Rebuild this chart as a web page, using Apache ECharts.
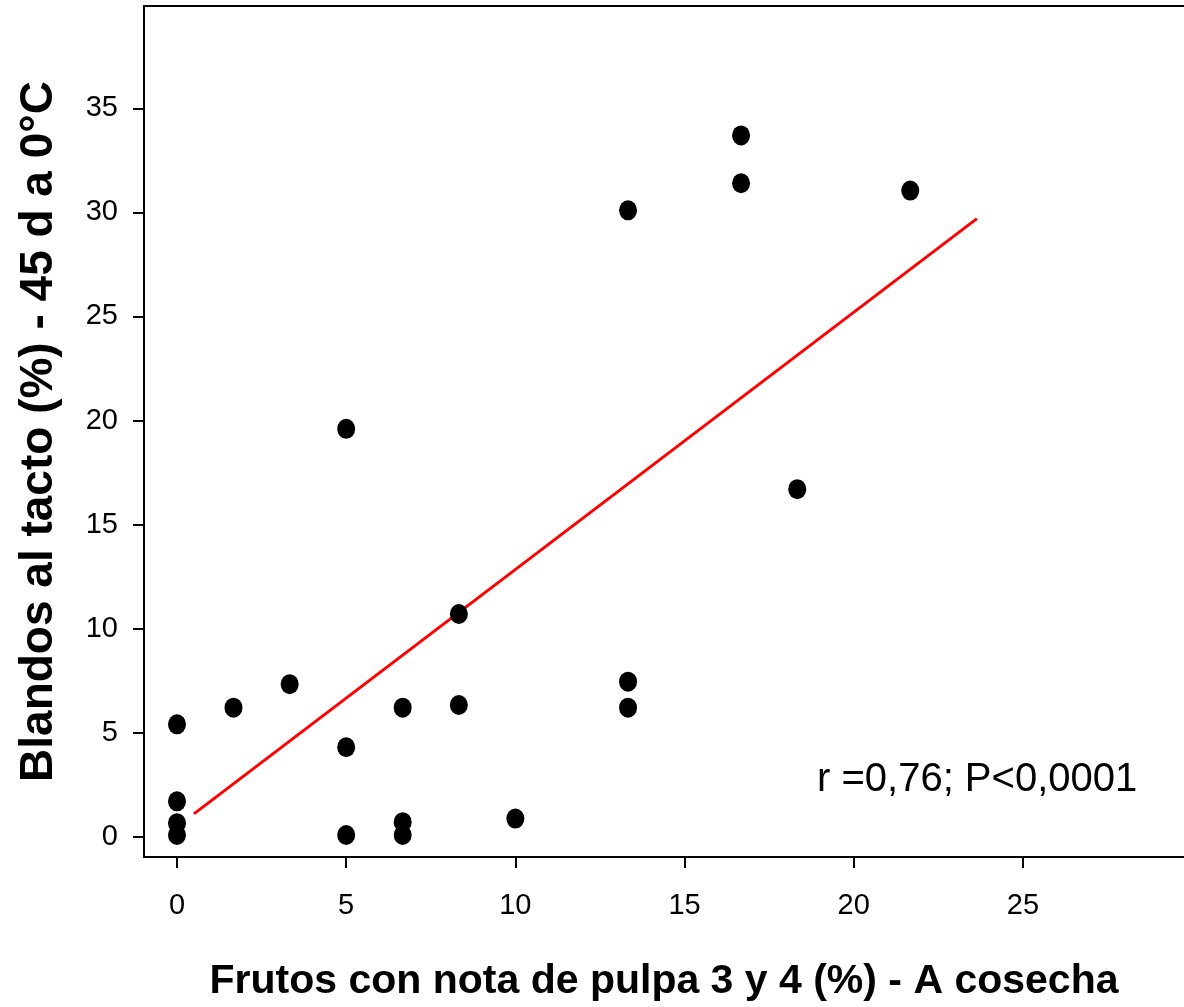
<!DOCTYPE html>
<html>
<head>
<meta charset="utf-8">
<script src="https://cdn.jsdelivr.net/npm/echarts@6/dist/echarts.min.js"></script>
<style>
  html, body { margin: 0; padding: 0; background: #fff; overflow: hidden; }
  #chart { width: 1184px; height: 1007px; }
</style>
</head>
<body>
<div id="chart"></div>
<script>
// Scatter data: x = Frutos con nota de pulpa 3 y 4 (%), y = Blandos al tacto (%)
const xValues = [0, 0, 0, 0, 1.67, 3.33, 5, 5, 5, 6.67, 6.67, 6.67, 8.33, 8.33, 10, 13.33, 13.33, 13.33, 16.67, 16.67, 18.33, 21.67];
const yValues = [5.4, 1.7, 0.65, 0.08, 6.2, 7.33, 19.6, 4.3, 0.08, 6.2, 0.7, 0.08, 10.7, 6.33, 0.87, 30.1, 7.45, 6.2, 33.7, 31.4, 16.7, 31.05];
// Regression line end points
const fitX = [0.5, 23.64];
const fitY = [1.1, 29.7];
// Tick values
const xTicks = [0, 5, 10, 15, 20, 25];
const yTicks = [0, 5, 10, 15, 20, 25, 30, 35];

const FONT = 'Arial, "Liberation Sans", sans-serif';
const points = xValues.map((x, i) => [x, yValues[i]]);
const fitLine = fitX.map((x, i) => [x, fitY[i]]);

const chart = echarts.init(document.getElementById('chart'), null, { renderer: 'canvas', width: 1184, height: 1007 });
chart.setOption({
  backgroundColor: '#ffffff',
  animation: false,
  grid: { left: 144, width: 1040, top: 6, height: 851, containLabel: false },
  xAxis: [{
    type: 'value',
    min: -0.975,
    max: 29.76,
    position: 'bottom',
    splitLine: { show: false },
    axisLine: { show: true, onZero: false, lineStyle: { color: '#000', width: 2 } },
    axisTick: { show: true, customValues: xTicks, length: 11, lineStyle: { color: '#000', width: 2 } },
    axisLabel: { show: true, customValues: xTicks, margin: 34, color: '#000', fontSize: 29, fontFamily: FONT },
    name: 'Frutos con nota de pulpa 3 y 4 (%) - A cosecha',
    nameLocation: 'middle',
    nameGap: 104,
    nameTextStyle: { color: '#000', fontSize: 41, fontWeight: 'bold', fontFamily: FONT }
  }, {
    type: 'value',
    min: -0.975,
    max: 29.76,
    position: 'top',
    splitLine: { show: false },
    axisLine: { show: true, onZero: false, lineStyle: { color: '#000', width: 2 } },
    axisTick: { show: false },
    axisLabel: { show: false }
  }],
  yAxis: [{
    type: 'value',
    min: -0.975,
    max: 39.92,
    splitLine: { show: false },
    axisLine: { show: true, onZero: false, lineStyle: { color: '#000', width: 2 } },
    axisTick: { show: true, customValues: yTicks, length: 11, lineStyle: { color: '#000', width: 2 } },
    axisLabel: { show: true, customValues: yTicks, margin: 26, color: '#000', fontSize: 29, fontFamily: FONT },
    name: 'Blandos al tacto (%) - 45 d a 0°C',
    nameLocation: 'middle',
    nameGap: 82,
    nameTextStyle: { color: '#000', fontSize: 46, fontWeight: 'bold', fontFamily: FONT }
  }],
  series: [{
    type: 'scatter',
    data: points,
    symbol: 'circle',
    symbolSize: [18, 20],
    itemStyle: { color: '#000', opacity: 1 },
    z: 3
  }, {
    type: 'line',
    data: fitLine,
    symbol: 'none',
    lineStyle: { color: '#ff0000', width: 3 },
    z: 2
  }],
  graphic: [{
    type: 'text',
    left: 817,
    top: 760,
    style: { text: 'r =0,76; P<0,0001', fill: '#000', font: '40px ' + FONT }
  }]
});
</script>
</body>
</html>
